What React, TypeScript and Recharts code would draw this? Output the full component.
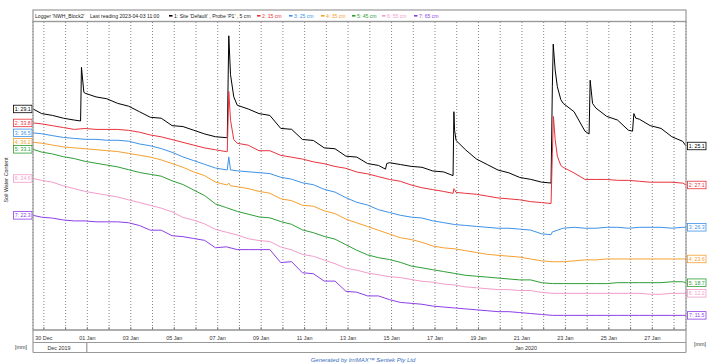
import React from "react";
import { LineChart, Line, XAxis, YAxis, CartesianGrid } from "recharts";

// days since 30 Dec 2019 00:00
const sampleDays = [
  -0.5, -0.1, 0.4, 0.9, 1.4, 1.9, 2.4, 2.9, 3.4, 3.9, 4.4, 4.9, 5.4, 5.9, 6.4, 6.9,
  7.4, 7.9, 8.4, 8.9, 9.4, 9.9, 10.4, 10.9, 11.4, 11.9, 12.4, 12.9, 13.4, 13.9, 14.4,
  14.9, 15.4, 15.9, 16.4, 16.9, 17.4, 17.9, 18.4, 18.9, 19.4, 19.9, 20.4, 20.9, 21.4,
  21.9, 22.4, 22.9, 23.4, 23.9, 24.4, 24.9, 25.4, 25.9, 26.4, 26.9, 27.4, 27.9, 28.4,
  28.9, 29.4, 29.55,
];

const depth5cm = [
  29.1, 28.6, 28.4, 28.1, 27.9, 30.8, 30.4, 30.2, 29.7, 29.4, 28.8, 28.2, 28.1, 27.3, 27.2, 26.8,
  26.4, 26.1, 26.0, 29.5, 29.1, 28.6, 28.4, 27.0, 26.9, 25.8, 25.7, 24.9, 24.8, 24.0, 23.9,
  23.2, 23.0, 23.3, 23.1, 22.9, 22.8, 22.4, 22.3, 26.8, 24.7, 23.7, 23.1, 22.5, 22.2,
  21.7, 21.5, 21.2, 31.5, 29.7, 28.8, 26.7, 29.2, 28.3, 27.9, 26.8, 28.0, 27.3, 27.0,
  26.1, 25.6, 25.1,
];
const depth15cm = [
  33.8, 33.7, 33.5, 33.3, 33.1, 33.2, 33.1, 33.1, 33.1, 33.0, 32.8, 32.5, 32.3, 32.0, 31.7, 31.4,
  31.1, 30.9, 30.7, 31.6, 31.4, 30.8, 30.8, 30.3, 30.1, 29.9, 29.6, 29.4, 29.1, 28.9, 28.5,
  28.3, 28.0, 27.7, 27.5, 27.1, 26.8, 26.6, 26.4, 26.6, 26.2, 26.1, 25.9, 25.7, 25.6,
  25.5, 25.3, 25.2, 30.5, 29.0, 28.4, 27.7, 27.7, 27.7, 27.6, 27.6, 27.5, 27.4, 27.4,
  27.4, 27.3, 27.1,
];
const depth25cm = [
  36.5, 36.4, 36.2, 36.0, 35.9, 35.8, 35.8, 35.7, 35.7, 35.6, 35.3, 35.1, 34.8, 34.4, 33.9, 33.5,
  33.1, 32.7, 32.5, 32.4, 32.3, 32.2, 32.1, 31.7, 31.5, 31.1, 30.9, 30.4, 30.1, 29.5, 29.0,
  28.7, 28.2, 27.9, 27.6, 27.4, 27.3, 27.0, 26.8, 26.6, 26.5, 26.4, 26.3, 26.2, 26.2,
  26.1, 26.0, 25.6, 25.8, 26.2, 26.3, 26.2, 26.2, 26.3, 26.3, 26.2, 26.3, 26.3, 26.3,
  26.2, 26.3, 26.3,
];
const depth35cm = [
  36.2, 36.1, 35.9, 35.7, 35.6, 35.5, 35.4, 35.3, 35.2, 35.0, 34.8, 34.6, 34.3, 33.9, 33.5, 33.0,
  32.6, 31.9, 31.6, 31.4, 31.2, 30.9, 30.7, 30.1, 29.9, 29.4, 29.3, 28.8, 28.5, 27.9, 27.5,
  27.1, 26.7, 26.3, 25.9, 25.7, 25.4, 25.0, 24.8, 24.7, 24.5, 24.3, 24.1, 24.0, 23.9,
  23.8, 23.6, 23.4, 23.3, 23.3, 23.4, 23.5, 23.5, 23.6, 23.6, 23.6, 23.6, 23.6, 23.6,
  23.6, 23.6, 23.6,
];
const depth45cm = [
  33.1, 32.8, 32.6, 32.3, 32.1, 31.8, 31.6, 31.4, 31.2, 30.9, 30.6, 30.4, 30.2, 29.7, 29.3, 28.7,
  28.1, 27.2, 26.8, 26.4, 26.1, 25.8, 25.7, 25.3, 25.0, 24.4, 24.1, 23.7, 23.4, 22.8, 22.2,
  21.7, 21.4, 21.2, 20.9, 20.5, 20.3, 20.1, 19.9, 19.7, 19.5, 19.4, 19.3, 19.2, 19.1,
  19.0, 19.0, 18.7, 18.6, 18.6, 18.6, 18.6, 18.6, 18.6, 18.7, 18.7, 18.7, 18.7, 18.7,
  18.8, 18.8, 18.7,
];
const depth55cm = [
  24.6, 24.4, 24.2, 23.8, 23.5, 23.2, 23.0, 22.8, 22.6, 22.3, 22.0, 21.7, 21.4, 21.0, 20.4, 20.1,
  19.7, 19.1, 18.8, 18.5, 18.1, 17.9, 17.8, 17.2, 16.9, 16.4, 16.2, 15.8, 15.4, 14.9, 14.7,
  14.4, 14.2, 14.0, 13.9, 13.7, 13.5, 13.4, 13.2, 13.1, 12.9, 12.8, 12.7, 12.6, 12.6,
  12.5, 12.5, 12.3, 12.2, 12.2, 12.2, 12.2, 12.2, 12.2, 12.2, 12.2, 12.2, 12.1, 12.1,
  12.2, 12.2, 12.2,
];
const depth65cm = [
  22.3, 22.1, 22.0, 21.8, 21.7, 21.7, 21.6, 21.6, 21.6, 21.5, 21.2, 20.7, 20.7, 20.1, 20.0, 19.8,
  19.6, 18.8, 18.9, 18.6, 18.6, 18.6, 18.6, 17.2, 17.3, 16.1, 16.0, 15.2, 15.2, 14.1, 14.0,
  13.6, 13.6, 13.2, 12.9, 12.8, 12.7, 12.5, 12.4, 12.3, 12.2, 12.1, 12.0, 11.9, 11.9,
  11.8, 11.7, 11.6, 11.5, 11.5, 11.5, 11.5, 11.5, 11.5, 11.5, 11.5, 11.5, 11.5, 11.5,
  11.5, 11.5, 11.5,
];

// irrigation / rain events
const eventDays5cm = [1.69, 1.73, 1.84, 8.44, 8.51, 8.59, 8.74, 15.72, 15.78, 18.83, 18.87, 18.97, 23.34, 23.44, 23.53, 23.63, 23.79, 25.09, 25.14, 25.25, 27.09, 27.15, 27.24];
const eventVals5cm = [27.8, 33.6, 30.9, 26.0, 37.0, 32.8, 30.4, 22.6, 23.2, 21.9, 28.8, 25.7, 21.1, 36.1, 33.3, 31.5, 30.1, 26.4, 32.2, 29.7, 26.7, 28.6, 28.1];
const eventDays15cm = [8.44, 8.51, 8.59, 8.74, 18.83, 18.87, 18.97, 23.34, 23.45, 23.53, 23.63, 23.79];
const eventVals15cm = [30.7, 37.2, 34.1, 32.0, 26.2, 26.7, 26.3, 25.1, 34.5, 32.0, 30.2, 29.2];
const eventDays25cm = [8.44, 8.51, 8.59, 23.34];
const eventVals25cm = [32.5, 33.9, 32.5, 25.5];
const eventDays35cm = [8.44, 8.51, 8.59];
const eventVals35cm = [31.6, 31.8, 31.5];

const seriesNames = [
  "1: Site 'Default' , Probe 'P1' , 5 cm",
  "2: 15 cm",
  "3: 25 cm",
  "4: 35 cm",
  "5: 45 cm",
  "6: 55 cm",
  "7: 65 cm",
];
const seriesColors = ["#000000", "#e8323c", "#3d92e8", "#f4a030", "#2e9e36", "#f29ccb", "#8c3fe6"];
const axisBottoms = [5.23, 11.44, 15.21, 15.93, 13.59, 8.24, 9.92];
const AXIS_SPAN = 33.26;

const dayTicks = [0, 1, 2, 3, 4, 5, 6, 7, 8, 9, 10, 11, 12, 13, 14, 15, 16, 17, 18, 19, 20, 21, 22, 23, 24, 25, 26, 27, 28, 29];
const dayLabels = [
  "30 Dec", "31 Dec", "01 Jan", "02 Jan", "03 Jan", "04 Jan", "05 Jan", "06 Jan", "07 Jan", "08 Jan",
  "09 Jan", "10 Jan", "11 Jan", "12 Jan", "13 Jan", "14 Jan", "15 Jan", "16 Jan", "17 Jan", "18 Jan",
  "19 Jan", "20 Jan", "21 Jan", "22 Jan", "23 Jan", "24 Jan", "25 Jan", "26 Jan", "27 Jan", "28 Jan",
];

function buildSeries(values: number[], evDays: number[] = [], evVals: number[] = []) {
  const pts = sampleDays.map((t, i) => ({ t, v: values[i] }));
  evDays.forEach((t, i) => pts.push({ t, v: evVals[i] }));
  return pts.sort((a, b) => a.t - b.t);
}

const series = [
  buildSeries(depth5cm, eventDays5cm, eventVals5cm),
  buildSeries(depth15cm, eventDays15cm, eventVals15cm),
  buildSeries(depth25cm, eventDays25cm, eventVals25cm),
  buildSeries(depth35cm, eventDays35cm, eventVals35cm),
  buildSeries(depth45cm),
  buildSeries(depth55cm),
  buildSeries(depth65cm),
];

const FONT = "'Liberation Sans', Arial, sans-serif";

const endLabel = (si: number, len: number) => (p: any) => {
  const { cx, cy, index } = p;
  const key = `lbl-${si}-${index}`;
  if (index !== 0 && index !== len - 1) return <g key={key} />;
  const color = seriesColors[si];
  const w = 18.5;
  const h = 7.5;
  const x = index === 0 ? cx - w - 1 : cx + 1.5;
  return (
    <g key={key}>
      <rect x={x} y={cy - h / 2} width={w} height={h} fill="#fff" stroke={color} strokeWidth={0.8} />
      <text x={x + w / 2} y={cy + 1.9} textAnchor="middle" fontSize={5.2} fontFamily={FONT} fill={color}>
        {`${si + 1}: ${Number(p.payload.v).toFixed(1)}`}
      </text>
    </g>
  );
};

const DayTick = (props: any) => {
  const { x, y, payload } = props;
  const i = dayTicks.indexOf(payload.value);
  return (
    <g>
      <line x1={x} x2={x} y1={y - 3} y2={y} stroke="#666" strokeWidth={0.8} />
      {i % 2 === 0 && (
        <text x={x} y={y + 9.5} textAnchor="middle" fontSize={5.4} fontFamily={FONT} fill="#333">
          {dayLabels[i]}
        </text>
      )}
    </g>
  );
};

const headerMarks = [169, 257, 289, 321, 352, 382, 414];

export default function App() {
  return (
    <div style={{ position: "absolute", left: 0, top: 0, width: 715, height: 364, background: "#fff" }}>
      <LineChart width={715} height={364} margin={{ top: 22, right: 29, bottom: 22, left: 33 }}>
        <CartesianGrid horizontal={false} stroke="#777" strokeDasharray="1 2" strokeWidth={0.9} />
        <XAxis
          dataKey="t"
          type="number"
          domain={[-0.5, 29.55]}
          ticks={dayTicks}
          interval={0}
          height={12}
          tickSize={0}
          tickMargin={0}
          tickLine={false}
          axisLine={{ stroke: "#999" }}
          tick={<DayTick />}
        />
        {series.map((_, i) => (
          <YAxis key={i} yAxisId={i} hide type="number" domain={[axisBottoms[i], axisBottoms[i] + AXIS_SPAN]} />
        ))}
        {series.map((d, i) => (
          <Line
            key={i}
            yAxisId={i}
            data={d}
            dataKey="v"
            type="linear"
            stroke={seriesColors[i]}
            strokeWidth={1}
            dot={endLabel(i, d.length)}
            activeDot={false}
            isAnimationActive={false}
          />
        ))}
      </LineChart>
      <svg
        width={715}
        height={364}
        style={{ position: "absolute", left: 0, top: 0, pointerEvents: "none" }}
        fontFamily={FONT}
      >
        <rect x={33} y={10} width={653} height={11.5} fill="none" stroke="#999" strokeWidth={1.2} />
        <text x={35} y={17.8} fontSize={5.1} fill="#222">Logger 'NWH_Block2'</text>
        <text x={90} y={17.8} fontSize={5.1} fill="#222">Last reading 2023-04-03 11:00</text>
        {seriesNames.map((n, i) => (
          <g key={n}>
            <rect x={headerMarks[i]} y={15} width={3.5} height={1.6} fill={seriesColors[i]} />
            <text x={headerMarks[i] + 5} y={17.8} fontSize={5.1} fill={i === 0 ? "#222" : seriesColors[i]}>
              {n}
            </text>
          </g>
        ))}
        <rect x={33} y={21.5} width={653} height={308.5} fill="none" stroke="#999" strokeWidth={1.2} />
        <line x1={33} x2={33} y1={330} y2={352.5} stroke="#999" strokeWidth={1.2} />
        <line x1={686} x2={686} y1={330} y2={352.5} stroke="#999" strokeWidth={1.2} />
        <line x1={33} x2={686} y1={342.5} y2={342.5} stroke="#999" strokeWidth={1.2} />
        <line x1={33} x2={686} y1={352.5} y2={352.5} stroke="#999" strokeWidth={1.2} />
        <line x1={86.8} x2={86.8} y1={342.5} y2={352.5} stroke="#999" strokeWidth={1.2} />
        <text x={59} y={350} textAnchor="middle" fontSize={5.4} fill="#333">Dec 2019</text>
        <text x={526} y={350} textAnchor="middle" fontSize={5.4} fill="#333">Jan 2020</text>
        <text x={21} y={349} textAnchor="middle" fontSize={5.4} fill="#333">[mm]</text>
        <text x={700} y={346} textAnchor="middle" fontSize={5.4} fill="#333">[mm]</text>
        <text
          x={8}
          y={180}
          transform="rotate(-90 8 180)"
          textAnchor="middle"
          fontSize={5.4}
          fill="#333"
        >
          Soil Water Content
        </text>
        <text x={363} y={362} textAnchor="middle" fontSize={6} fontStyle="italic" fill="#3a6fc0">
          Generated by IrriMAX™ Sentek Pty Ltd
        </text>
      </svg>
    </div>
  );
}
